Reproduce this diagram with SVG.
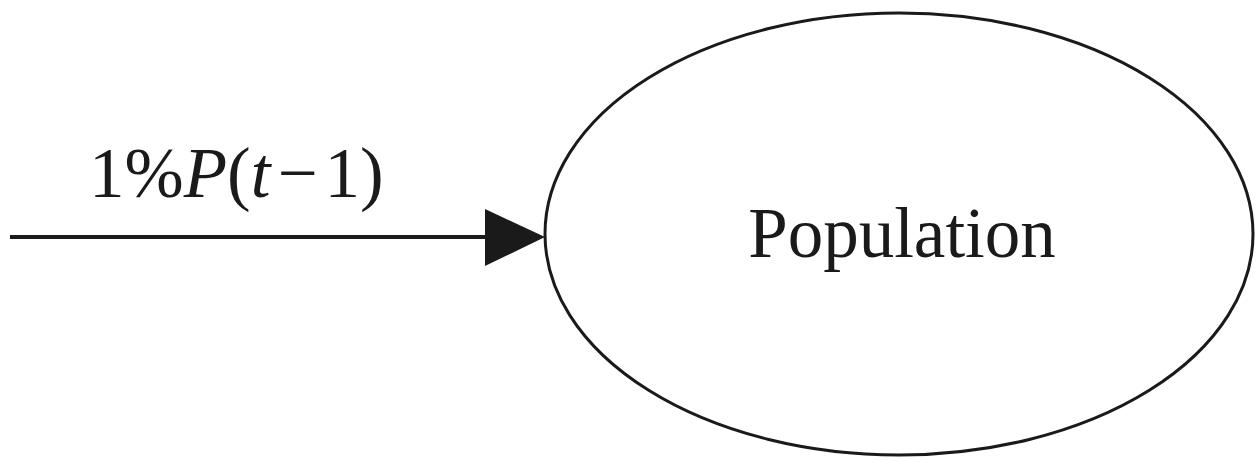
<svg xmlns="http://www.w3.org/2000/svg" width="1258" height="462" viewBox="0 0 1258 462">
  <style>
    .edge { stroke: #1a1a1a; stroke-width: 4; fill: none; }
    .head { fill: #1a1a1a; stroke: none; }
    .node { fill: #ffffff; stroke: #1a1a1a; stroke-width: 3; }
    .lbl { font-family: "Liberation Serif", "Times New Roman", serif; fill: #1a1a1a; }
    .it { font-style: italic; }
  </style>
  <rect width="1258" height="462" fill="#ffffff"/>
  <g id="connectors">
    <g id="inflow">
      <line class="edge" x1="10" y1="237" x2="490" y2="237"/>
      <polygon class="head" points="485,209 545,237 485,266"/>
      <text class="lbl" x="89" y="197" font-size="71">1%<tspan class="it">P</tspan>(<tspan class="it">t</tspan><tspan dx="7">−</tspan><tspan dx="7">1)</tspan></text>
    </g>
  </g>
  <g id="population">
    <ellipse class="node" cx="899" cy="234" rx="354" ry="221"/>
    <text class="lbl" x="902" y="257" font-size="71" text-anchor="middle">Population</text>
  </g>
</svg>
